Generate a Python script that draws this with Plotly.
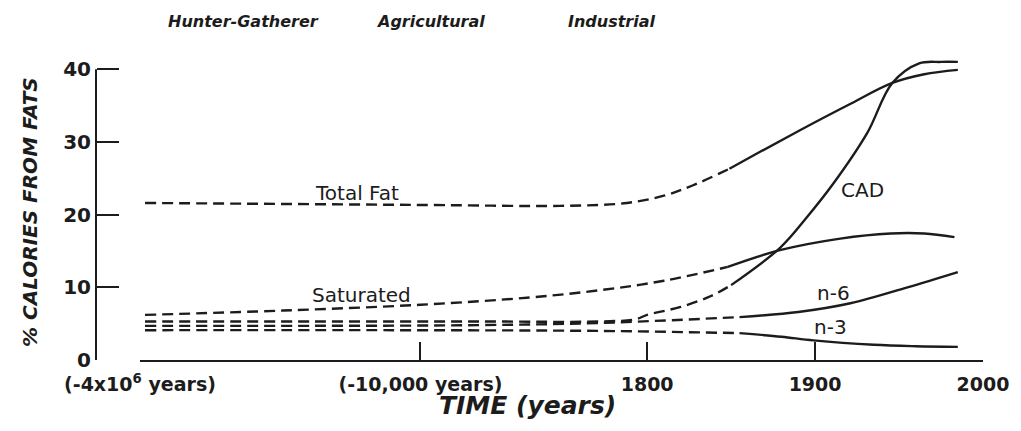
import plotly.graph_objects as go

# x positions: 1800-2000 are real years, earlier eras sit on a compressed stretch
X_TICK_POS = [1498, 1665, 1800, 1900, 2000]
X_TICK_TEXT = ["(-4x10<sup>6</sup> years)", "(-10,000 years)", "1800", "1900", "2000"]
Y_TICKS = [0, 10, 20, 30, 40]

total_dash_x = [1501, 1560, 1620, 1680, 1748, 1788, 1810, 1827, 1849]
total_dash_y = [21.6, 21.5, 21.4, 21.3, 21.2, 21.6, 22.6, 24.0, 26.3]
total_solid_x = [1849, 1867, 1891, 1920, 1946, 1965, 1985]
total_solid_y = [26.3, 28.6, 31.6, 35.1, 38.1, 39.3, 39.9]

sat_dash_x = [1501, 1583, 1665, 1730, 1772, 1810, 1848]
sat_dash_y = [6.2, 6.8, 7.6, 8.6, 9.6, 10.9, 12.8]
sat_solid_x = [1848, 1879, 1915, 1945, 1965, 1983]
sat_solid_y = [12.8, 15.1, 16.7, 17.4, 17.4, 16.9]

cad_dash_x = [1501, 1600, 1700, 1772, 1793, 1800, 1820, 1838, 1850]
cad_dash_y = [5.3, 5.3, 5.3, 5.3, 5.6, 6.2, 7.3, 8.8, 10.3]
cad_solid_x = [1850, 1879, 1895, 1911, 1931, 1946, 1962, 1975, 1985]
cad_solid_y = [10.3, 15.4, 19.6, 24.3, 31.2, 38.1, 40.8, 41.0, 41.0]

n6_dash_x = [1501, 1600, 1700, 1772, 1855]
n6_dash_y = [4.7, 4.7, 4.8, 5.1, 5.9]
n6_solid_x = [1855, 1890, 1921, 1955, 1985]
n6_solid_y = [5.9, 6.6, 7.8, 10.0, 12.1]

n3_dash_x = [1501, 1650, 1772, 1855]
n3_dash_y = [4.1, 4.1, 4.0, 3.7]
n3_solid_x = [1855, 1880, 1899, 1935, 1960, 1985]
n3_solid_y = [3.7, 3.2, 2.7, 2.1, 1.9, 1.8]

curve_labels = [
    ("Total Fat", 1627, 23.0),
    ("Saturated", 1630, 8.9),
    ("CAD", 1928, 23.4),
    ("n-6", 1911, 9.2),
    ("n-3", 1909, 4.5),
]
era_labels = [("Hunter-Gatherer", 243), ("Agricultural", 430), ("Industrial", 612)]

INK = "#1c1c1c"
PAGE_PAD = 8  # the html body keeps its default 8px margin
Y_AXIS_TOP = 40
Y_RANGE_TOP = 42.5  # headroom so CAD can run above the 40 line
PX_PER_UNIT = (360 - 69) / Y_AXIS_TOP
plot_top_px = 360 - Y_RANGE_TOP * PX_PER_UNIT

W, H = 1021 - PAGE_PAD, 431 - PAGE_PAD
L = 96 - PAGE_PAD
T = round(plot_top_px) - PAGE_PAD
R = W - (983 - PAGE_PAD)
B = H - (360 - PAGE_PAD)
plot_w = W - L - R
plot_h = H - T - B


def px_to_paper(px, py):
    # px, py measured on the full 1021x431 window
    return (px - PAGE_PAD - L) / plot_w, (H - B - (py - PAGE_PAD)) / plot_h


fig = go.Figure()

segments = [
    (total_dash_x, total_dash_y, True), (total_solid_x, total_solid_y, False),
    (sat_dash_x, sat_dash_y, True), (sat_solid_x, sat_solid_y, False),
    (cad_dash_x, cad_dash_y, True), (cad_solid_x, cad_solid_y, False),
    (n6_dash_x, n6_dash_y, True), (n6_solid_x, n6_solid_y, False),
    (n3_dash_x, n3_dash_y, True), (n3_solid_x, n3_solid_y, False),
]
for xs, ys, dashed in segments:
    fig.add_trace(
        go.Scatter(
            x=xs,
            y=ys,
            mode="lines",
            line={
                "color": INK,
                "width": 2.4,
                "shape": "spline",
                "smoothing": 1.0,
                "dash": "11px,6px" if dashed else "solid",
            },
            showlegend=False,
            hoverinfo="skip",
        )
    )

for text, lx, ly in curve_labels:
    fig.add_annotation(
        x=lx, y=ly, text=text, showarrow=False, xanchor="center", yanchor="middle",
        font={"family": "DejaVu Sans", "size": 20, "color": INK},
    )

for text, px in era_labels:
    ax, ay = px_to_paper(px, 22)
    fig.add_annotation(
        x=ax, y=ay, xref="paper", yref="paper", text=f"<b><i>{text}</i></b>",
        showarrow=False, xanchor="center", yanchor="middle",
        font={"family": "DejaVu Sans", "size": 16, "color": INK},
    )

tx, ty = px_to_paper(527, 405)
fig.add_annotation(
    x=tx, y=ty, xref="paper", yref="paper", text="<b><i>TIME (years)</i></b>",
    showarrow=False, xanchor="center", yanchor="middle",
    font={"family": "DejaVu Sans", "size": 25, "color": INK},
)
yx, yy = px_to_paper(30, 212)
fig.add_annotation(
    x=yx, y=yy, xref="paper", yref="paper", text="<b><i>% CALORIES FROM FATS</i></b>",
    textangle=-90, showarrow=False, xanchor="center", yanchor="middle",
    font={"family": "DejaVu Sans", "size": 20, "color": INK},
)

# y axis spine stops at 40, as in the original
fig.add_shape(
    type="line", xref="paper", yref="y", x0=0, x1=0, y0=0, y1=Y_AXIS_TOP,
    line={"color": INK, "width": 2},
)

fig.update_layout(
    width=W,
    height=H,
    margin={"l": L, "r": R, "t": T, "b": B},
    paper_bgcolor="white",
    plot_bgcolor="white",
    font={"family": "DejaVu Sans", "color": INK},
    xaxis={
        "domain": [(140 - 96) / plot_w, 1],
        "range": [1498, 2000],
        "tickvals": X_TICK_POS,
        "ticktext": X_TICK_TEXT,
        "ticks": "inside",
        "ticklen": 18,
        "tickwidth": 2,
        "tickcolor": INK,
        "showline": True,
        "linewidth": 2,
        "linecolor": INK,
        "showgrid": False,
        "zeroline": False,
        "tickfont": {"family": "DejaVu Sans", "size": 19, "color": INK, "weight": "bold"},
        "ticklabelstandoff": 6,
    },
    yaxis={
        "anchor": "free",
        "position": 0,
        "range": [0, Y_RANGE_TOP],
        "tickvals": Y_TICKS,
        "ticks": "inside",
        "ticklen": 22,
        "tickwidth": 2,
        "tickcolor": INK,
        "showline": False,
        "showgrid": False,
        "zeroline": False,
        "tickfont": {"family": "DejaVu Sans", "size": 20, "color": INK, "weight": "bold"},
        "ticklabelstandoff": 5,
    },
)

fig.write_html("out.html")
